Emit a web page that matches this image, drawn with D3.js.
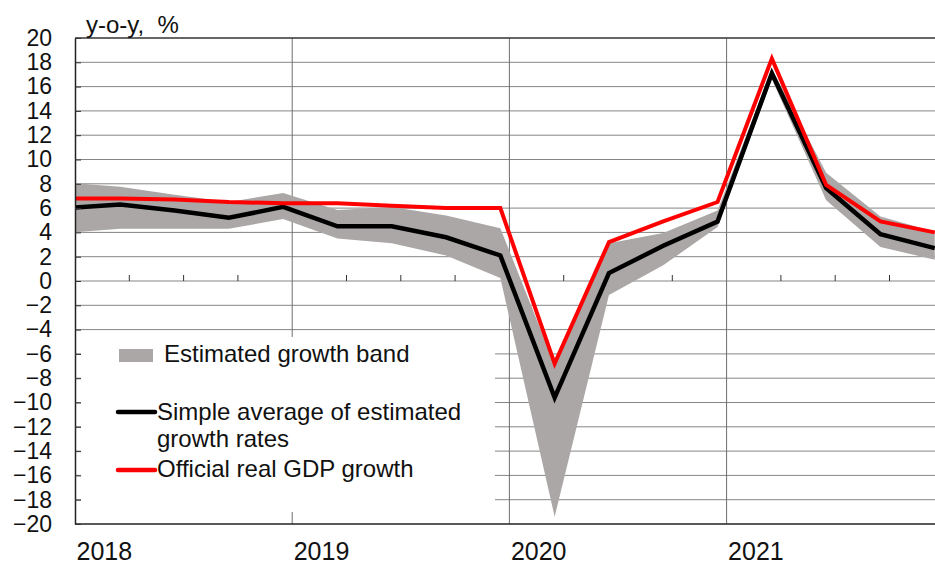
<!DOCTYPE html>
<html>
<head>
<meta charset="utf-8">
<script src="https://cdn.jsdelivr.net/npm/d3@7"></script>
<style>
  html, body { margin: 0; padding: 0; background: #fff; }
  svg { display: block; font-family: "Liberation Sans", Arial, sans-serif; }
</style>
</head>
<body>
<svg id="chart" width="935" height="566"></svg>
<script>
// Quarterly observations, year-on-year growth in %
const quarters = ["2017Q4","2018Q1","2018Q2","2018Q3","2018Q4","2019Q1","2019Q2","2019Q3","2019Q4",
                  "2020Q1","2020Q2","2020Q3","2020Q4","2021Q1","2021Q2","2021Q3","2021Q4"];
const officialGrowth = [6.8, 6.8, 6.7, 6.5, 6.4, 6.4, 6.2, 6.0, 6.0, -6.8, 3.2, 4.9, 6.5, 18.3, 7.9, 4.9, 4.0];
const averageEstimate = [6.0, 6.3, 5.8, 5.2, 6.1, 4.5, 4.5, 3.6, 2.1, -9.6, 0.65, 2.9, 4.9, 17.1, 7.65, 3.85, 2.7];
const bandHigh = [8.1, 7.75, 7.1, 6.5, 7.25, 5.85, 6.1, 5.4, 4.35, -6.9, 3.1, 3.95, 5.8, 17.5, 8.9, 5.3, 4.05];
const bandLow  = [3.95, 4.3, 4.3, 4.3, 5.1, 3.5, 3.1, 2.1, 0.25, -19.4, -1.15, 1.3, 4.45, 16.6, 6.65, 2.8, 1.75];

const years = [2018, 2019, 2020, 2021];
const yTicks = d3.range(-20, 21, 2);
const unitLabel = "y-o-y,  %";
const legendLabels = {
  band: "Estimated growth band",
  average: ["Simple average of estimated", "growth rates"],
  official: "Official real GDP growth"
};

const svg = d3.select("#chart");
const plotLeft = 75, plotTop = 38, plotBottom = 524, plotRight = 935;
const firstYear = 2018;

// Months since Jan 2018; each quarter is plotted at the centre of its last month
const x = d3.scaleLinear().domain([0, 48]).range([plotLeft, plotLeft + 48 * 18.1]);
const y = d3.scaleLinear().domain([-20, 20]).range([plotBottom, plotTop]);
const qMonth = q => (+q.slice(0, 4) - firstYear) * 12 + (+q.slice(5)) * 3 - 0.5;

const rows = quarters.map((q, i) => ({
  m: qMonth(q), off: officialGrowth[i], avg: averageEstimate[i], hi: bandHigh[i], lo: bandLow[i]
}));

svg.append("defs").append("clipPath").attr("id", "plotClip")
  .append("rect").attr("x", plotLeft).attr("y", plotTop - 2)
  .attr("width", plotRight - plotLeft + 20).attr("height", plotBottom - plotTop + 2);

// Horizontal grid
svg.append("g").selectAll("line").data(yTicks.filter(v => v > -20 && v < 20)).join("line")
  .attr("x1", plotLeft).attr("x2", plotRight)
  .attr("y1", d => y(d)).attr("y2", d => y(d))
  .attr("stroke", "#858585").attr("stroke-width", 1);

// Year separators
svg.append("g").selectAll("line").data(years.slice(1)).join("line")
  .attr("x1", d => x((d - firstYear) * 12)).attr("x2", d => x((d - firstYear) * 12))
  .attr("y1", plotTop).attr("y2", plotBottom)
  .attr("stroke", "#6e6e6e").attr("stroke-width", 1);

// Quarter ticks on the zero line
const quarterTicks = [];
years.forEach(yr => [3, 6, 9].forEach(mm => quarterTicks.push((yr - firstYear) * 12 + mm)));
svg.append("g").selectAll("line").data(quarterTicks).join("line")
  .attr("x1", d => x(d)).attr("x2", d => x(d))
  .attr("y1", y(0)).attr("y2", y(0) - 6)
  .attr("stroke", "#333").attr("stroke-width", 1);

// Legend background hides the grid behind it
svg.append("rect").attr("x", 81).attr("y", 337).attr("width", 414).attr("height", 175).attr("fill", "#fff");

// Series
const plot = svg.append("g").attr("clip-path", "url(#plotClip)");
plot.append("path").datum(rows)
  .attr("d", d3.area().x(d => x(d.m)).y0(d => y(d.lo)).y1(d => y(d.hi)))
  .attr("fill", "#aba7a7");
plot.append("path").datum(rows)
  .attr("d", d3.line().x(d => x(d.m)).y(d => y(d.avg)))
  .attr("fill", "none").attr("stroke", "#000").attr("stroke-width", 4.5).attr("stroke-linejoin", "miter");
plot.append("path").datum(rows)
  .attr("d", d3.line().x(d => x(d.m)).y(d => y(d.off)))
  .attr("fill", "none").attr("stroke", "#ff0000").attr("stroke-width", 4).attr("stroke-linejoin", "miter");

// Frame: top and bottom borders
svg.append("line").attr("x1", plotLeft).attr("x2", plotRight).attr("y1", plotTop).attr("y2", plotTop)
  .attr("stroke", "#333").attr("stroke-width", 1.5);
svg.append("line").attr("x1", plotLeft).attr("x2", plotRight).attr("y1", plotBottom).attr("y2", plotBottom)
  .attr("stroke", "#222").attr("stroke-width", 1.5);

// Y axis
const yAxis = svg.append("g").attr("transform", `translate(${plotLeft},0)`)
  .call(d3.axisLeft(y).tickValues(yTicks).tickSizeInner(-6).tickSizeOuter(0).tickPadding(23));
yAxis.select(".domain").attr("stroke", "#222").attr("stroke-width", 1.5);
yAxis.selectAll(".tick line").attr("stroke", "#333");
yAxis.selectAll(".tick text").attr("font-size", 23).attr("fill", "#111")
  .attr("font-family", "Liberation Sans, Arial, sans-serif");

// X axis year labels
const xAxis = svg.append("g").attr("transform", `translate(0,${plotBottom})`)
  .call(d3.axisBottom(x).tickValues(years.map(yr => (yr - firstYear) * 12))
    .tickFormat((d, i) => String(years[i])).tickSize(0).tickPadding(18));
xAxis.select(".domain").remove();
xAxis.selectAll(".tick text").attr("text-anchor", "start").attr("dx", 1)
  .attr("font-size", 25).attr("fill", "#111")
  .attr("font-family", "Liberation Sans, Arial, sans-serif");

// Unit label
svg.append("text").attr("x", 86).attr("y", 33).attr("font-size", 24).attr("fill", "#111")
  .style("white-space", "pre").text(unitLabel);

// Legend
const lg = svg.append("g").attr("font-size", 24).attr("fill", "#111");
lg.append("rect").attr("x", 119).attr("y", 349).attr("width", 34).attr("height", 13).attr("fill", "#aba7a7");
lg.append("text").attr("x", 164).attr("y", 362).text(legendLabels.band);
lg.append("line").attr("x1", 118).attr("x2", 155).attr("y1", 412).attr("y2", 412)
  .attr("stroke", "#000").attr("stroke-width", 4.5).attr("stroke-linecap", "round");
lg.append("text").attr("x", 157).attr("y", 420).text(legendLabels.average[0]);
lg.append("text").attr("x", 157).attr("y", 447).text(legendLabels.average[1]);
lg.append("line").attr("x1", 118).attr("x2", 155).attr("y1", 470).attr("y2", 470)
  .attr("stroke", "#ff0000").attr("stroke-width", 4.5).attr("stroke-linecap", "round");
lg.append("text").attr("x", 157).attr("y", 477).text(legendLabels.official);
</script>
</body>
</html>
